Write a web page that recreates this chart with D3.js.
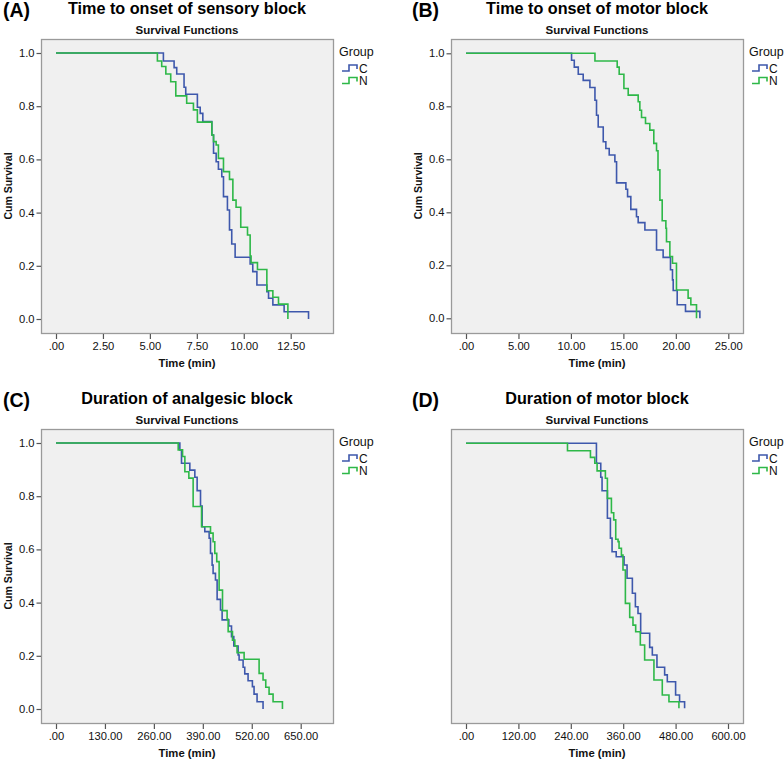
<!DOCTYPE html>
<html><head><meta charset="utf-8">
<script src="https://cdn.jsdelivr.net/npm/d3@7"></script>
<style>body{margin:0;background:#fff;} svg{display:block;}</style>
</head><body>
<svg id="chart" width="784" height="762"></svg>
<script>
// ---------- DATA ----------
const groups = ["C", "N"];
const survTicks = [0, 0.2, 0.4, 0.6, 0.8, 1.0];
const survTickLabels = ["0.0", "0.2", "0.4", "0.6", "0.8", "1.0"];

// (A) Time to onset of sensory block
const sensoryTicks = [0, 2.5, 5, 7.5, 10, 12.5];
const sensoryTickLabels = [".00", "2.50", "5.00", "7.50", "10.00", "12.50"];
const sensoryC_time = [0,5.72,6.29,6.43,6.82,6.91,7.53,7.68,7.82,8.30,8.39,8.53,8.65,8.83,8.92,9.13,9.24,9.36,9.54,10.34,10.48,10.70,11.23,11.32,11.55,12.15,13.45];
const sensoryC_surv = [1,0.970,0.945,0.921,0.871,0.845,0.796,0.773,0.742,0.692,0.623,0.591,0.563,0.535,0.460,0.410,0.335,0.282,0.232,0.207,0.178,0.128,0.103,0.078,0.053,0.027,0];
const sensoryN_time = [0,5.40,5.63,5.85,6.11,6.38,6.96,7.32,7.53,8.30,8.39,8.53,8.65,8.92,9.24,9.42,9.59,9.84,10.20,10.34,10.39,10.73,11.23,11.55,11.85,12.35];
const sensoryN_surv = [1,0.970,0.949,0.921,0.892,0.839,0.811,0.786,0.740,0.692,0.667,0.654,0.604,0.554,0.525,0.447,0.420,0.345,0.316,0.237,0.212,0.186,0.106,0.082,0.056,0];

// (B) Time to onset of motor block
const motorTicks = [0, 5, 10, 15, 20, 25];
const motorTickLabels = [".00", "5.00", "10.00", "15.00", "20.00", "25.00"];
const motorC_time = [0,10.06,10.32,10.70,11.17,11.81,12.29,12.44,12.60,13.08,13.33,13.65,14.19,14.35,15.24,15.40,15.71,16.25,16.41,17.05,18.16,18.79,19.49,19.68,19.75,20.13,20.92,22.29];
const motorC_surv = [1,0.974,0.948,0.921,0.898,0.871,0.823,0.766,0.722,0.666,0.641,0.616,0.591,0.511,0.487,0.459,0.411,0.383,0.361,0.333,0.258,0.230,0.183,0.145,0.105,0.051,0.026,0];
const motorN_time = [0,12.29,14.41,14.60,15.05,15.46,16.41,16.57,16.73,17.11,17.52,17.90,18.16,18.30,18.48,18.70,19.05,19.11,19.43,19.68,20.06,21.17,21.43,21.97];
const motorN_surv = [1,0.971,0.948,0.921,0.867,0.842,0.817,0.785,0.758,0.735,0.710,0.660,0.632,0.560,0.446,0.368,0.340,0.289,0.233,0.208,0.107,0.076,0.051,0];

// (C) Duration of analgesic block
const analgesicTicks = [0, 130, 260, 390, 520, 650];
const analgesicTickLabels = [".00", "130.00", "260.00", "390.00", "520.00", "650.00"];
const analgesicC_time = [0,329,333.4,355.5,368.8,374.9,383.9,388.2,395.3,406.8,410.4,414.7,417.3,423.6,428,437,441.3,459,466.2,472.3,483.8,486.4,497,501.4,510.2,521.7,526.1,534.1,550];
const analgesicC_surv = [1,0.974,0.924,0.898,0.871,0.821,0.763,0.685,0.667,0.642,0.585,0.541,0.510,0.485,0.412,0.372,0.335,0.312,0.272,0.237,0.203,0.184,0.157,0.132,0.106,0.084,0.056,0.027,0];
const analgesicN_time = [0,324.6,336.2,342.3,352.9,364.3,386.6,410.4,417.3,421.8,427,433.3,442.3,454.5,457.3,468.8,475,481,499.7,539.5,550,557.2,566,576.6,601.5];
const analgesicN_surv = [1,0.974,0.949,0.892,0.868,0.761,0.685,0.661,0.629,0.585,0.554,0.447,0.370,0.337,0.291,0.259,0.237,0.212,0.187,0.134,0.109,0.082,0.056,0.027,0];

// (D) Duration of motor block
const motorDurTicks = [0, 120, 240, 360, 480, 600];
const motorDurTickLabels = [".00", "120.00", "240.00", "360.00", "480.00", "600.00"];
const motorDurC_time = [0,298.7,308.6,311.6,323.8,330.7,334.5,344,362,368.8,381,387.9,393.9,400,420.6,426.7,437.3,454.9,461,480,489.1,500.6];
const motorDurC_surv = [1,0.925,0.872,0.821,0.717,0.642,0.591,0.572,0.541,0.491,0.434,0.383,0.358,0.283,0.230,0.201,0.155,0.126,0.100,0.050,0.025,0];
const motorDurN_time = [0,232.4,285,294.9,300.2,319.2,323.8,333,338.3,342.9,348.2,350.5,355.9,359.5,365,374.9,382.4,388.6,399.2,409.1,430.4,449.5,464.8,487.6];
const motorDurN_surv = [1,0.972,0.947,0.925,0.896,0.868,0.792,0.738,0.711,0.638,0.629,0.604,0.578,0.522,0.396,0.343,0.314,0.289,0.239,0.182,0.107,0.050,0.025,0];

// ---------- LAYOUT ----------
const FONT = "'Liberation Sans', Arial, Helvetica, sans-serif";
const colors = {C: "#3E58AC", N: "#2EB848"};

const panels = [
  {tag: "(A)", title: "Time to onset of sensory block", tagX: 3, oy: 0,
   frame: [41, 333, 39, 333], xd: [0, 12.5], xr: [56, 290.7], yr: [319, 53],
   xt: sensoryTicks, xl: sensoryTickLabels, yAxis: true,
   series: {C: [sensoryC_time, sensoryC_surv], N: [sensoryN_time, sensoryN_surv]}},
  {tag: "(B)", title: "Time to onset of motor block", tagX: 412, oy: 0,
   frame: [451, 743, 39, 333], xd: [0, 25], xr: [466, 728.3], yr: [318.3, 53.3],
   xt: motorTicks, xl: motorTickLabels, yAxis: true,
   series: {C: [motorC_time, motorC_surv], N: [motorN_time, motorN_surv]}},
  {tag: "(C)", title: "Duration of analgesic block", tagX: 3, oy: 390,
   frame: [41, 333, 429, 723], xd: [0, 650], xr: [56, 300.7], yr: [709, 443],
   xt: analgesicTicks, xl: analgesicTickLabels, yAxis: true,
   series: {C: [analgesicC_time, analgesicC_surv], N: [analgesicN_time, analgesicN_surv]}},
  {tag: "(D)", title: "Duration of motor block", tagX: 412, oy: 390,
   frame: [451, 743, 429, 723], xd: [0, 600], xr: [466, 728], yr: [708.3, 443.3],
   xt: motorDurTicks, xl: motorDurTickLabels, yAxis: false,
   series: {C: [motorDurC_time, motorDurC_surv], N: [motorDurN_time, motorDurN_surv]}}
];

const svg = d3.select("#chart");
svg.append("rect").attr("width", 784).attr("height", 762).attr("fill", "#fff");

panels.forEach(p => {
  const g = svg.append("g");
  const [fx0, fx1, fy0, fy1] = p.frame;
  const cx = (fx0 + fx1) / 2;

  g.append("rect")
    .attr("x", fx0 + 0.5).attr("y", fy0 + 0.5)
    .attr("width", fx1 - fx0).attr("height", fy1 - fy0)
    .attr("fill", "#f0f0f0").attr("stroke", "#9a9a9a").attr("stroke-width", 1.3);

  const x = d3.scaleLinear().domain(p.xd).range(p.xr);
  const y = d3.scaleLinear().domain([0, 1]).range(p.yr);

  // x axis
  const xa = g.append("g").attr("transform", `translate(0,${fy1 + 1})`)
    .call(d3.axisBottom(x).tickValues(p.xt).tickFormat((d, i) => p.xl[i]).tickSize(5).tickPadding(3));
  xa.select(".domain").remove();
  xa.selectAll("line").attr("stroke", "#555").attr("stroke-width", 1.2);
  xa.selectAll("text").attr("font-family", FONT).attr("font-size", 11.2).attr("fill", "#111");

  if (p.yAxis) {
    const ya = g.append("g").attr("transform", `translate(${fx0},0)`)
      .call(d3.axisLeft(y).tickValues(survTicks).tickFormat((d, i) => survTickLabels[i]).tickSize(4.5).tickPadding(2));
    ya.select(".domain").remove();
    ya.selectAll("line").attr("stroke", "#555").attr("stroke-width", 1.2);
    ya.selectAll("text").attr("font-family", FONT).attr("font-size", 11.2).attr("fill", "#111");
    g.append("text")
      .attr("transform", `translate(${fx0 - 29},${(p.yr[0] + p.yr[1]) / 2}) rotate(-90)`)
      .attr("text-anchor", "middle").attr("font-family", FONT).attr("font-size", 10.5)
      .attr("font-weight", "bold").attr("fill", "#111").text("Cum Survival");
  }

  // x axis title
  g.append("text").attr("x", cx).attr("y", fy1 + 34)
    .attr("text-anchor", "middle").attr("font-family", FONT).attr("font-size", 11.3)
    .attr("font-weight", "bold").attr("fill", "#111").text("Time (min)");

  // survival step lines
  const line = d3.line().x(d => x(d[0])).y(d => y(d[1])).curve(d3.curveStepAfter);
  groups.forEach(k => {
    const [t, s] = p.series[k];
    g.append("path").datum(d3.zip(t, s)).attr("d", line)
      .attr("fill", "none").attr("stroke", colors[k]).attr("stroke-width", 1.6);
  });

  // titles
  g.append("text").attr("x", p.tagX).attr("y", p.oy + 16.7)
    .attr("font-family", FONT).attr("font-size", 19.5).attr("font-weight", "bold")
    .attr("fill", "#000").text(p.tag);
  g.append("text").attr("x", cx).attr("y", p.oy + 13.8).attr("text-anchor", "middle")
    .attr("font-family", FONT).attr("font-size", 16.2).attr("font-weight", "bold")
    .attr("fill", "#000").text(p.title);
  g.append("text").attr("x", cx).attr("y", p.oy + 34).attr("text-anchor", "middle")
    .attr("font-family", FONT).attr("font-size", 11.5).attr("font-weight", "bold")
    .attr("fill", "#111").text("Survival Functions");

  // legend
  const lx = fx1 + 6;
  g.append("text").attr("x", lx).attr("y", fy0 + 16.5)
    .attr("font-family", FONT).attr("font-size", 12.5).attr("fill", "#111").text("Group");
  groups.forEach((k, i) => {
    const ry = fy0 + 32 + i * 12.5;
    g.append("path")
      .attr("d", `M${lx + 3},${ry} H${lx + 10} V${ry - 6} H${lx + 18} V${ry - 2}`)
      .attr("fill", "none").attr("stroke", colors[k]).attr("stroke-width", 1.6);
    g.append("text").attr("x", lx + 20).attr("y", ry + 1.5)
      .attr("font-family", FONT).attr("font-size", 12).attr("fill", "#111").text(k);
  });
});
</script>
</body></html>
